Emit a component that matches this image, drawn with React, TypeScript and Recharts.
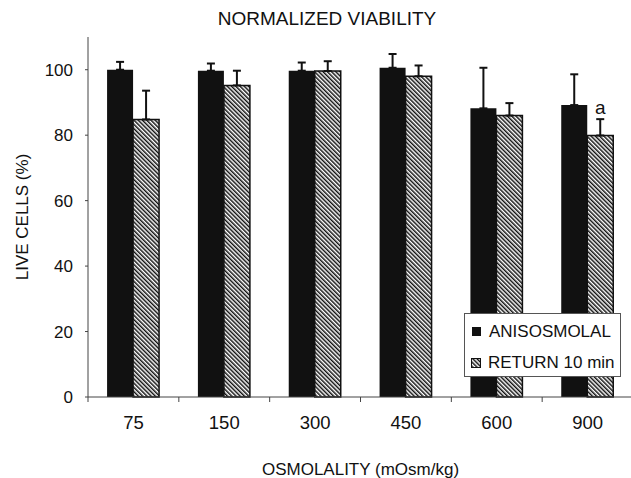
import { BarChart, Bar, XAxis, YAxis, ErrorBar, Legend, Label, LabelList } from "recharts";

// osmolality groups (mOsm/kg)
const categories = ["75", "150", "300", "450", "600", "900"];
const anisosmolal = [100, 99.7, 99.7, 100.6, 88.2, 89.2];
const anisosmolalErr = [2.4, 2.2, 2.5, 4.2, 12.4, 9.4];
const return10 = [84.8, 95.2, 99.6, 98.0, 86.0, 79.9];
const return10Err = [8.8, 4.5, 3.0, 3.3, 3.8, 5.0];
const notes = ["", "", "", "", "", "a"];
const yTicks = [0, 20, 40, 60, 80, 100];

const data = categories.map((c, i) => ({
  osm: c,
  aniso: anisosmolal[i],
  anisoErr: [0, anisosmolalErr[i]],
  ret: return10[i],
  retErr: [0, return10Err[i]],
  note: notes[i],
}));

const FONT = "'Liberation Sans', Arial, sans-serif";
const W = 650;
const H = 478;
const PLOT_LEFT = 88;
const PLOT_RIGHT = 633;
const PLOT_TOP = 37;
const PLOT_BOTTOM = 397;
const BAND = (PLOT_RIGHT - PLOT_LEFT) / categories.length;
const AXIS = "#444";

function OsmTick(props: any) {
  const { x, payload, index } = props;
  return (
    <g>
      <line x1={x + BAND / 2} x2={x + BAND / 2} y1={PLOT_BOTTOM} y2={PLOT_BOTTOM + 5} stroke={AXIS} />
      {index === 0 && (
        <line x1={x - BAND / 2} x2={x - BAND / 2} y1={PLOT_BOTTOM} y2={PLOT_BOTTOM + 5} stroke={AXIS} />
      )}
      <text x={x} y={429} textAnchor="middle" fontSize={18.5} fill="#111" fontFamily={FONT}>
        {payload.value}
      </text>
    </g>
  );
}

function HatchIcon() {
  return (
    <svg width={10} height={10} style={{ display: "block" }}>
      <rect x={0.5} y={0.5} width={9} height={9} fill="url(#hatch)" stroke="#111" />
    </svg>
  );
}

function LegendBox() {
  return (
    <div
      style={{
        width: 155,
        height: 62,
        border: "1px solid #555",
        background: "#fff",
        fontFamily: FONT,
        fontSize: 17,
        color: "#111",
        boxSizing: "content-box",
        whiteSpace: "nowrap",
      }}
    >
      <div style={{ display: "flex", alignItems: "center", height: 31, paddingLeft: 7, paddingTop: 2 }}>
        <div style={{ width: 9, height: 9, background: "#111", marginRight: 8 }} />
        <span>ANISOSMOLAL</span>
      </div>
      <div style={{ display: "flex", alignItems: "center", height: 31, paddingLeft: 6 }}>
        <div style={{ marginRight: 7 }}>
          <HatchIcon />
        </div>
        <span>RETURN 10 min</span>
      </div>
    </div>
  );
}

export default function App() {
  return (
    <div
      style={{
        position: "fixed",
        left: 0,
        top: 0,
        width: 631,
        height: 478,
        overflow: "hidden",
        background: "#fff",
        fontFamily: FONT,
      }}
    >
      <BarChart
        width={W}
        height={H}
        data={data}
        margin={{ top: PLOT_TOP, right: W - PLOT_RIGHT, bottom: 0, left: 0 }}
        barGap={0}
        barCategoryGap="21%"
      >
        <defs>
          <pattern id="hatch" patternUnits="userSpaceOnUse" width={3} height={3} patternTransform="rotate(-45)">
            <rect width={3} height={3} fill="#fff" />
            <line x1={0.75} y1={0} x2={0.75} y2={3} stroke="#111" strokeWidth={1.5} />
          </pattern>
        </defs>
        <text x={327} y={25} textAnchor="middle" fontSize={19} fill="#111" fontFamily={FONT}>
          NORMALIZED VIABILITY
        </text>
        <XAxis
          dataKey="osm"
          height={H - PLOT_BOTTOM}
          stroke={AXIS}
          tickLine={false}
          tick={<OsmTick />}
          interval={0}
        >
          <Label
            value="OSMOLALITY (mOsm/kg)"
            position="insideBottom"
            offset={3}
            fontSize={17}
            fill="#111"
            fontFamily={FONT}
          />
        </XAxis>
        <XAxis xAxisId="top" dataKey="osm" orientation="top" height={0} stroke={AXIS} tick={false} tickLine={false} />
        <YAxis
          width={PLOT_LEFT}
          domain={[0, 110]}
          ticks={yTicks}
          interval={0}
          stroke={AXIS}
          tickSize={3}
          tickMargin={12}
          tick={{ fontSize: 17, fill: "#111", fontFamily: FONT }}
        >
          <Label
            value="LIVE CELLS (%)"
            angle={-90}
            position="insideLeft"
            offset={22}
            fontSize={17}
            fill="#111"
            fontFamily={FONT}
            style={{ textAnchor: "middle" }}
          />
        </YAxis>
        <Legend
          layout="horizontal"
          verticalAlign="middle"
          content={() => <LegendBox />}
          wrapperStyle={{ left: 464, top: 313, width: 157, height: 64 }}
        />
        <Bar dataKey="aniso" name="ANISOSMOLAL" fill="#111" isAnimationActive={false}>
          <ErrorBar dataKey="anisoErr" width={4} stroke="#111" strokeWidth={2} isAnimationActive={false} />
        </Bar>
        <Bar
          dataKey="ret"
          name="RETURN 10 min"
          fill="url(#hatch)"
          stroke="#111"
          strokeWidth={1.5}
          isAnimationActive={false}
        >
          <ErrorBar dataKey="retErr" width={4} stroke="#111" strokeWidth={2} isAnimationActive={false} />
          <LabelList dataKey="note" position="top" offset={22} fontSize={19} fill="#111" fontFamily={FONT} />
        </Bar>
      </BarChart>
    </div>
  );
}
